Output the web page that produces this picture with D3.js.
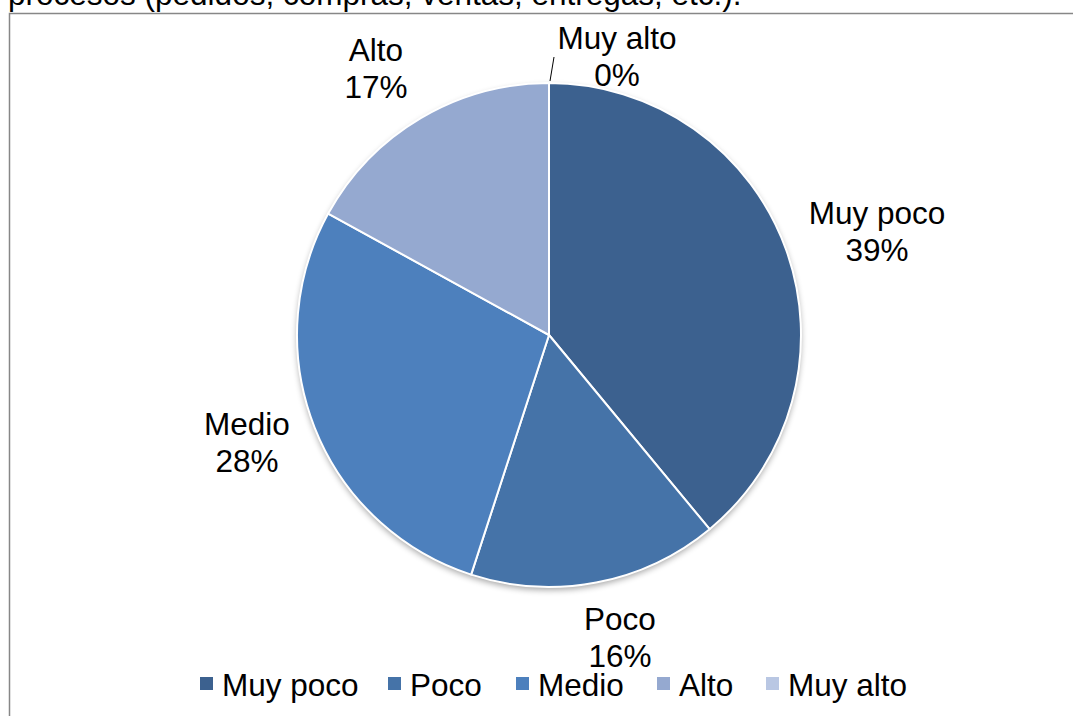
<!DOCTYPE html>
<html>
<head>
<meta charset="utf-8">
<script src="https://cdn.jsdelivr.net/npm/d3@7"></script>
<style>
  html, body { margin: 0; padding: 0; background: #fff; }
  svg { display: block; }
  text { font-family: "Liberation Sans", Arial, sans-serif; fill: #000; }
</style>
</head>
<body>
<svg id="chart" width="1073" height="716"></svg>
<script>
// Nivel de uso declarado, porcentajes por categoría
const categories = ["Muy poco", "Poco", "Medio", "Alto", "Muy alto"];
const values = [39, 16, 28, 17, 0];
const colors = ["#3C618F", "#4573A8", "#4D80BD", "#95A9D0", "#B9C7E3"];
const titleTail = "procesos (pedidos, compras, ventas, entregas, etc.).";

const svg = d3.select("#chart");
const W = 1073, H = 716;
const FS = 31.5;

// Tail of the question text above the chart frame
svg.append("text")
  .attr("x", 8).attr("y", 5)
  .attr("font-size", FS)
  .text(titleTail);

// Chart frame (top and left edges visible)
svg.append("path")
  .attr("d", `M9.5,${H} L9.5,13.5 L${W},13.5`)
  .attr("fill", "none")
  .attr("stroke", "#878787")
  .attr("stroke-width", 1.5);

const cx = 549, cy = 335, r = 252;

const defs = svg.append("defs");
const shadow = defs.append("filter").attr("id", "shadow")
  .attr("x", "-20%").attr("y", "-20%").attr("width", "140%").attr("height", "140%");
shadow.append("feGaussianBlur").attr("in", "SourceAlpha").attr("stdDeviation", 3);
shadow.append("feOffset").attr("dx", 0).attr("dy", 3).attr("result", "b");
shadow.append("feComponentTransfer").append("feFuncA").attr("type", "linear").attr("slope", 0.35);
const merge = shadow.append("feMerge");
merge.append("feMergeNode");
merge.append("feMergeNode").attr("in", "SourceGraphic");

const color = d3.scaleOrdinal().domain(categories).range(colors);

const pie = d3.pie().sort(null).value(d => d.v).startAngle(0).endAngle(2 * Math.PI);
const data = categories.map((c, i) => ({ c, v: values[i] }));
const arcs = pie(data);
const arc = d3.arc().innerRadius(0).outerRadius(r);

const g = svg.append("g").attr("transform", `translate(${cx},${cy})`);
g.append("circle").attr("r", r).attr("fill", "#fff").attr("filter", "url(#shadow)");
g.selectAll("path.slice")
  .data(arcs)
  .join("path")
  .attr("class", "slice")
  .attr("d", arc)
  .attr("fill", d => color(d.data.c))
  .attr("stroke", "#fff")
  .attr("stroke-width", 2)
  .attr("stroke-linejoin", "round");

// Data labels, placed outside the pie (centre of the first line)
const labelPos = {
  "Muy poco": [877, 213],
  "Poco": [620, 619],
  "Medio": [247, 424],
  "Alto": [376, 50],
  "Muy alto": [617, 38]
};
const labels = svg.append("g");
arcs.forEach(d => {
  const [lx, ly] = labelPos[d.data.c];
  const t = labels.append("text")
    .attr("text-anchor", "middle")
    .attr("font-size", FS)
    .attr("x", lx).attr("y", ly + 11);
  t.append("tspan").attr("x", lx).text(d.data.c);
  t.append("tspan").attr("x", lx).attr("dy", 36.5).text(d3.format(".0f")(d.data.v) + "%");
});

// Leader line for the zero-size slice
const zero = arcs.find(d => d.data.c === "Muy alto");
const a0 = zero.startAngle;
const p1 = [cx + Math.sin(a0) * r, cy - Math.cos(a0) * r];
svg.append("line")
  .attr("x1", p1[0] + 1).attr("y1", p1[1] - 2)
  .attr("x2", p1[0] + 5).attr("y2", p1[1] - 26)
  .attr("stroke", "#000").attr("stroke-width", 1);

// Legend
const legendX = [200, 388, 516, 657, 766];
const legend = svg.append("g");
categories.forEach((c, i) => {
  legend.append("rect")
    .attr("x", legendX[i]).attr("y", 677)
    .attr("width", 13).attr("height", 13)
    .attr("fill", color(c));
  legend.append("text")
    .attr("x", legendX[i] + 22).attr("y", 696)
    .attr("font-size", FS)
    .text(c);
});
</script>
</body>
</html>
